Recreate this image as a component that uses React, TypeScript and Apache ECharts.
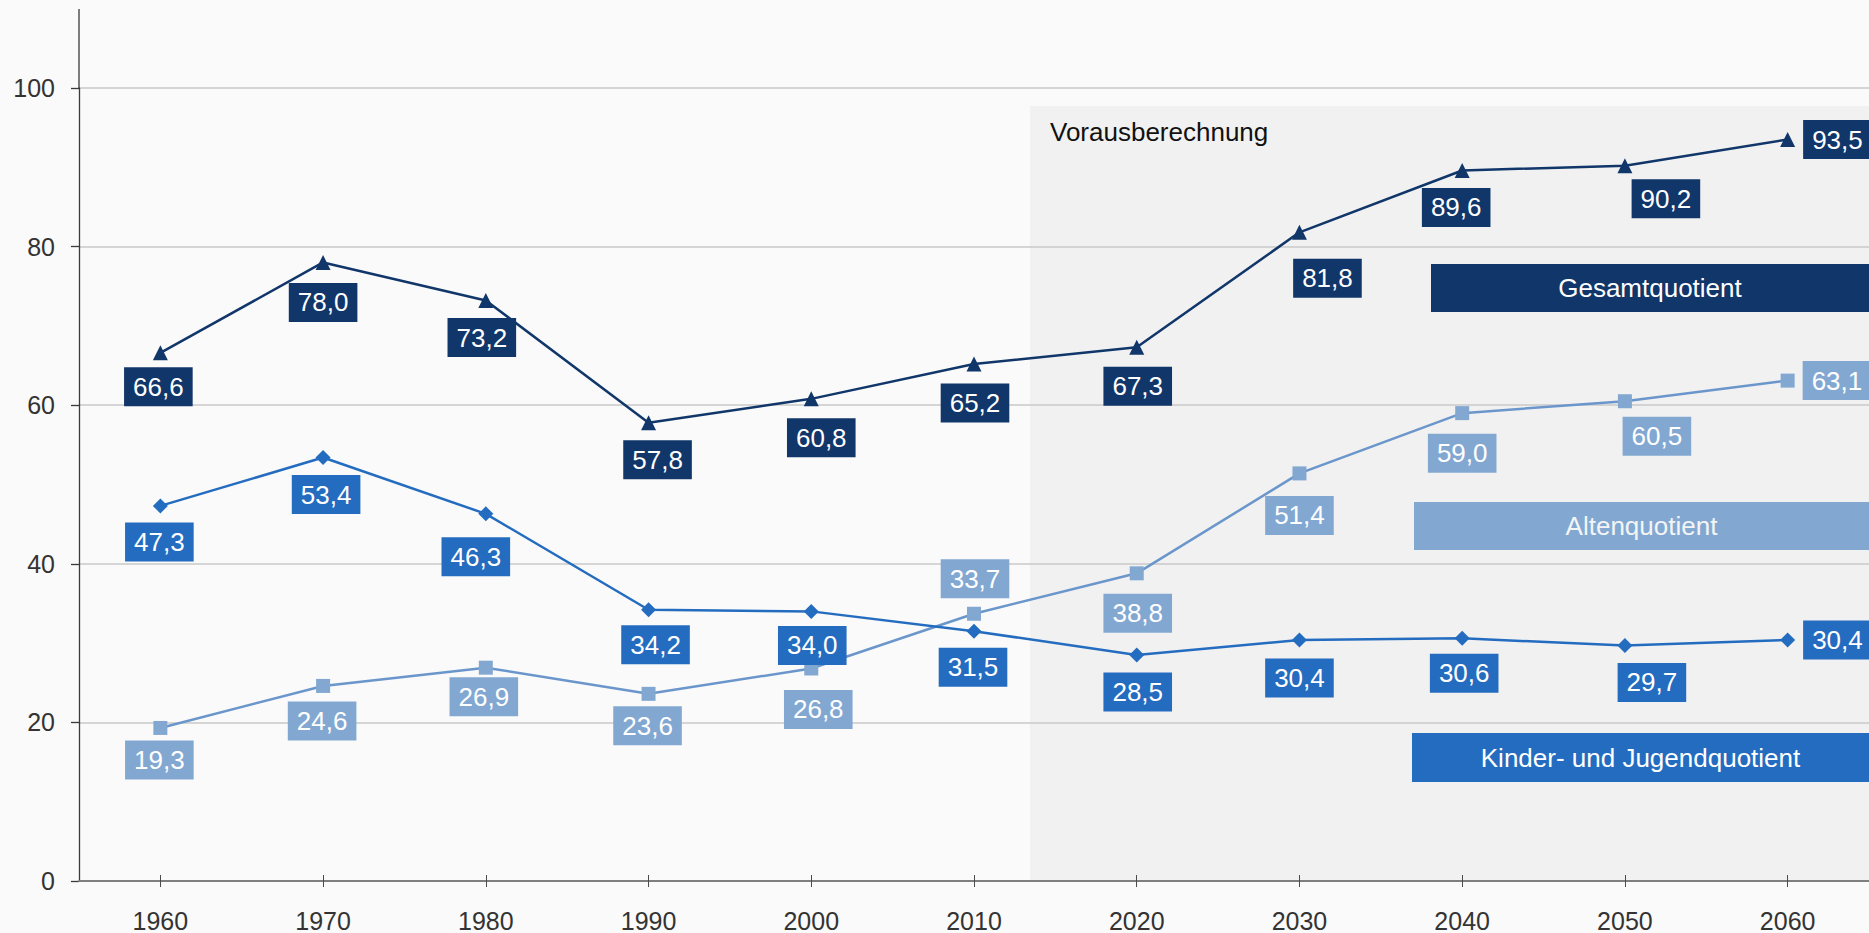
import React, { useEffect, useRef } from "react";
import * as echarts from "echarts";

// ---------- data ----------
const years = ["1960", "1970", "1980", "1990", "2000", "2010", "2020", "2030", "2040", "2050", "2060"];
const yTickValues = [0, 20, 40, 60, 80, 100];
const gesamtquotient = [66.6, 78.0, 73.2, 57.8, 60.8, 65.2, 67.3, 81.8, 89.6, 90.2, 93.5];
const altenquotient = [19.3, 24.6, 26.9, 23.6, 26.8, 33.7, 38.8, 51.4, 59.0, 60.5, 63.1];
const kinderquotient = [47.3, 53.4, 46.3, 34.2, 34.0, 31.5, 28.5, 30.4, 30.6, 29.7, 30.4];
const seriesNames = ["Gesamtquotient", "Altenquotient", "Kinder- und Jugendquotient"];
const projectionLabel = "Vorausberechnung";

// ---------- styling ----------
const FONT = "'Liberation Sans', Arial, Helvetica, sans-serif";
const NAVY = "#10366a";
const MID = "#246cbf";
const LIGHT = "#82a8d2";
const LIGHT_LINE = "#6a96cc";

// label offsets (pixel styling per point); null = label to the right
const gesamtOffsets: (number[] | null)[] = [[-2, 34], [0, 40], [-4, 37], [9, 37], [10, 39], [1, 39], [1, 39], [28, 46], [-6, 37], [41, 33], null];
const altenOffsets: (number[] | null)[] = [[-1, 32], [-1, 35], [-2, 29], [-1, 32], [7, 41], [1, -35], [1, 40], [0, 42], [0, 40], [32, 35], null];
const kinderOffsets: (number[] | null)[] = [[-1, 36], [3, 37], [-10, 43], [7, 35], [1, 34], [-1, 36], [1, 37], [0, 38], [2, 35], [27, 37], null];

function buildData(values: number[], offsets: (number[] | null)[]) {
  return values.map((v, i) => {
    const off = offsets[i];
    return {
      value: v,
      label: off
        ? { position: "inside", offset: off }
        : { position: "right", distance: 8 },
    };
  });
}

function makeSeries(name: string, values: number[], offsets: (number[] | null)[], symbol: string, size: number, lineColor: string, symColor: string, boxColor: string, textColor: string) {
  return {
    name,
    type: "line",
    data: buildData(values, offsets),
    symbol,
    symbolSize: size,
    showAllSymbol: true,
    lineStyle: { color: lineColor, width: 2.5 },
    itemStyle: { color: symColor },
    silent: true,
    emphasis: { disabled: true },
    label: {
      show: true,
      formatter: (p: any) => Number(p.value).toFixed(1).replace(".", ","),
      color: textColor,
      fontSize: 26,
      fontFamily: FONT,
      lineHeight: 26,
      backgroundColor: boxColor,
      padding: [7, 9, 6, 9],
    },
  };
}

export default function App() {
  const ref = useRef<HTMLDivElement>(null);

  useEffect(() => {
    if (!ref.current) return;
    const chart = echarts.init(ref.current, undefined, { renderer: "svg" });

    const legendBox = (x: number, y: number, w: number, h: number, fill: string, text: string, textColor: string) => ({
      type: "group",
      children: [
        { type: "rect", shape: { x, y, width: w, height: h }, style: { fill }, z: 5 },
        {
          type: "text",
          x: x + w / 2,
          y: y + h / 2,
          z: 6,
          style: { text, fill: textColor, font: `26px ${FONT}`, textAlign: "center", textVerticalAlign: "middle" },
        },
      ],
    });

    chart.setOption({
      animation: false,
      backgroundColor: "#fafafa",
      textStyle: { fontFamily: FONT },
      grid: { left: 79, right: 0, top: 88, bottom: 51, containLabel: false },
      xAxis: [
        {
          type: "category",
          data: years,
          boundaryGap: true,
          axisLine: { show: true, lineStyle: { color: "#7f7f7f", width: 2 } },
          axisTick: { show: true, alignWithLabel: true, length: 6, lineStyle: { color: "#4a4a4a", width: 1 } },
          axisLabel: { color: "#333333", fontSize: 25, fontFamily: FONT, margin: 27 },
          splitLine: { show: false },
          z: 3,
        },
        {
          type: "category",
          data: years,
          position: "bottom",
          boundaryGap: true,
          axisLine: { show: false },
          axisTick: { show: true, inside: true, alignWithLabel: true, length: 6, lineStyle: { color: "#4a4a4a", width: 1 } },
          axisLabel: { show: false },
          splitLine: { show: false },
          z: 3,
        },
      ],
      yAxis: {
        type: "value",
        min: yTickValues[0],
        max: yTickValues[yTickValues.length - 1],
        interval: yTickValues[1] - yTickValues[0],
        axisLine: { show: true, lineStyle: { color: "#3a3a3a", width: 1.3 } },
        axisTick: { show: true, length: 8, lineStyle: { color: "#3a3a3a", width: 1.3 } },
        axisLabel: { color: "#333333", fontSize: 25, fontFamily: FONT, margin: 24 },
        splitLine: { show: true, lineStyle: { color: "#c9c9c9", width: 1.5 } },
      },
      graphic: [
        { type: "rect", shape: { x: 1030, y: 106, width: 839, height: 776 }, style: { fill: "#f1f1f1" }, z: -10, silent: true },
        {
          type: "text",
          x: 1050,
          y: 132,
          z: 1,
          style: { text: projectionLabel, fill: "#111111", font: `26px ${FONT}`, textAlign: "left", textVerticalAlign: "middle" },
        },
        { type: "line", shape: { x1: 79, y1: 9, x2: 79, y2: 89 }, style: { stroke: "#3a3a3a", lineWidth: 1.3 }, z: 3 },
        legendBox(1431, 264, 438, 48, NAVY, seriesNames[0], "#ffffff"),
        legendBox(1414, 502, 455, 48, LIGHT, seriesNames[1], "#f4f4f4"),
        legendBox(1412, 733, 457, 49, MID, seriesNames[2], "#ffffff"),
      ],
      series: [
        makeSeries(seriesNames[1], altenquotient, altenOffsets, "rect", 14, LIGHT_LINE, LIGHT, LIGHT, "#ffffff"),
        makeSeries(seriesNames[2], kinderquotient, kinderOffsets, "diamond", 15, MID, MID, MID, "#ffffff"),
        makeSeries(seriesNames[0], gesamtquotient, gesamtOffsets, "triangle", 15, NAVY, NAVY, NAVY, "#ffffff"),
      ],
    });

    return () => chart.dispose();
  }, []);

  return (
    <div
      ref={ref}
      style={{ position: "absolute", left: 0, top: 0, width: 1869, height: 933 }}
    />
  );
}
